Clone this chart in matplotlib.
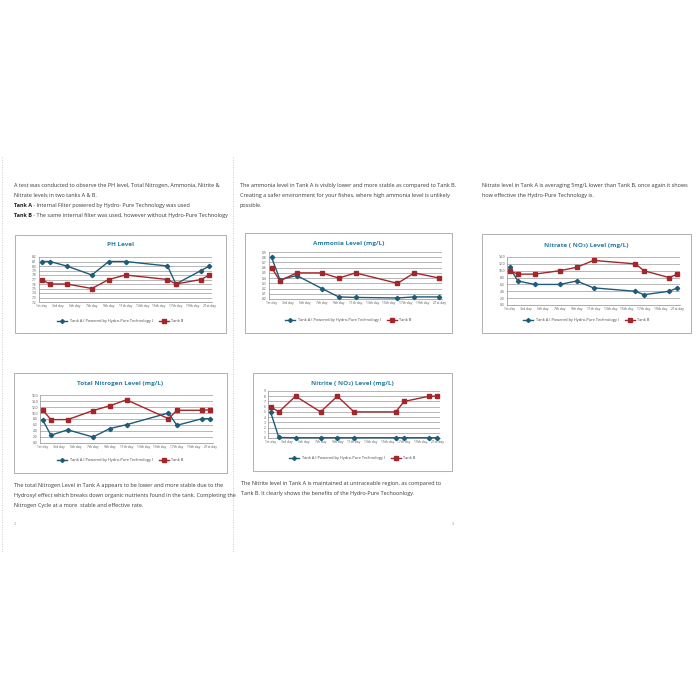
import matplotlib
matplotlib.use("Agg")
import matplotlib.pyplot as plt
from matplotlib.patches import Rectangle
from matplotlib.lines import Line2D
import numpy as np

# ---------------- data ----------------
day_labels = ["1st day", "3rd day", "5th day", "7th day", "9th day", "11th day",
              "13th day", "15th day", "17th day", "19th day", "21st day"]
label_days = [1, 3, 5, 7, 9, 11, 13, 15, 17, 19, 21]
days_main = [1, 2, 4, 7, 9, 11, 16, 17, 20, 21]
days_ammonia = [1, 2, 4, 7, 9, 11, 16, 18, 21]

ph_a = [8.1, 8.1, 8.0, 7.8, 8.1, 8.1, 8.0, 7.6, 7.9, 8.0]
ph_b = [7.7, 7.6, 7.6, 7.5, 7.7, 7.8, 7.7, 7.6, 7.7, 7.8]
ammonia_a = [0.8, 0.37, 0.45, 0.2, 0.04, 0.03, 0.02, 0.04, 0.04]
ammonia_b = [0.6, 0.35, 0.5, 0.5, 0.4, 0.5, 0.3, 0.5, 0.4]
nitrate_a = [11, 7, 6, 6, 7, 5, 4, 3, 4, 5]
nitrate_b = [10, 9, 9, 10, 11, 13, 12, 10, 8, 9]
tn_a = [7.8, 2.6, 4.4, 2.0, 4.8, 6.1, 10.0, 5.9, 8.1, 8.1]
tn_b = [11.1, 7.8, 7.8, 10.8, 12.4, 14.4, 8.1, 10.9, 10.9, 11.1]
nitrite_a = [5.0, 0.1, 0.05, 0.05, 0.05, 0.05, 0.05, 0.05, 0.05, 0.05]
nitrite_b = [6, 5, 8, 5, 8, 5, 5, 7, 8, 8]

label_a = "Tank A ( Powered by Hydro-Pure Technology )"
label_b = "Tank B"

text1 = ["A test was conducted to observe the PH level, Total Nitrogen, Ammonia, Nitrite &",
         "Nitrate levels in two tanks A & B."]
text1_bold = [("Tank A", " - Internal Filter powered by Hydro- Pure Technology was used"),
              ("Tank B", " - The same internal filter was used, however without Hydro-Pure Technology")]
text2 = ["The ammonia level in Tank A is visibly lower and more stable as compared to Tank B.",
         "Creating a safer environment for your fishes, where high ammonia level is unlikely",
         "possible."]
text3 = ["Nitrate level in Tank A is averaging 5mg/L lower than Tank B, once again it shows",
         "how effective the Hydro-Pure Technology is."]
text4 = ["The total Nitrogen Level in Tank A appears to be lower and more stable due to the",
         "Hydroxyl effect which breaks down organic nutrients found in the tank. Completing the",
         "Nitrogen Cycle at a more  stable and effective rate."]
text5 = ["The Nitrite level in Tank A is maintained at untraceable region, as compared to",
         "Tank B. It clearly shows the benefits of the Hydro-Pure Techoonlogy."]

# ---------------- style ----------------
W = H = 700
COL_A = "#1d5b79"
COL_B = "#a3262b"
COL_TITLE = "#2a7fa6"
TXT = "#3a3a3a"
FONT = ["Open Sans", "DejaVu Sans"]
plt.rcParams["font.family"] = FONT

fig = plt.figure(figsize=(7, 7), dpi=100)
fig.patch.set_facecolor("white")
bg = fig.add_axes([0, 0, 1, 1])
bg.set_xlim(0, W)
bg.set_ylim(H, 0)
bg.axis("off")

# fold / page edge dotted lines
for xx in (2, 233):
    bg.plot([xx, xx], [157, 552], ls=(0, (1, 1.5)), color="#cccccc", lw=0.7)

BODY = 3.95
LINE = 10.0


def para(x, y0, lines):
    for i, s in enumerate(lines):
        bg.text(x, y0 + i * LINE, s, fontsize=BODY, color=TXT, va="baseline", ha="left")


para(14, 187, text1)
for i, (b, rest) in enumerate(text1_bold):
    t = bg.text(14, 187 + (2 + i) * LINE, b, fontsize=BODY, color="#222222",
                weight="bold", va="baseline", ha="left")
    bg.annotate(rest, xy=(1, 0), xycoords=t, fontsize=BODY, color=TXT,
                va="bottom", ha="left")
para(240, 187, text2)
para(482, 187, text3)
para(14, 487, text4)
para(241, 485, text5)

bg.text(14, 524, "2", fontsize=3, color="#999999", va="center")
bg.text(452, 524, "3", fontsize=3, color="#999999", va="center")


def chart(box, plot, title, title_y, legend_y, xa, a, xb, b, yticks, yfmt):
    x0, y0, x1, y1 = box
    bg.add_patch(Rectangle((x0 + 1.2, y0 + 1.2), x1 - x0, y1 - y0,
                           facecolor="#e3e3e3", edgecolor="none", zorder=1))
    bg.add_patch(Rectangle((x0, y0), x1 - x0, y1 - y0, facecolor="white",
                           edgecolor="#b3b3b3", lw=0.75, zorder=2))
    cx = (x0 + x1) / 2
    bg.text(cx, title_y, title, fontsize=4.6, weight="bold", color=COL_TITLE,
            ha="center", va="center", zorder=3)
    l, t, r, btm = plot
    ax = fig.add_axes([l / W, 1 - btm / H, (r - l) / W, (btm - t) / H])
    ax.patch.set_alpha(0)
    ax.set_xlim(0.7, 21.3)
    ax.set_ylim(yticks[0], yticks[-1])
    ax.set_yticks(yticks)
    ax.set_yticklabels([yfmt.format(v) for v in yticks])
    ax.set_xticks(label_days)
    ax.set_xticklabels(day_labels)
    ax.tick_params(length=0, labelsize=2.4, labelcolor="#555555", pad=1.5)
    for s in ("top", "right"):
        ax.spines[s].set_visible(False)
    for s in ("left", "bottom"):
        ax.spines[s].set_color("#8c8c8c")
        ax.spines[s].set_linewidth(0.5)
    ax.grid(axis="y", color="#9a9a9a", lw=0.5)
    ax.set_axisbelow(True)
    ax.plot(xa, a, color=COL_A, lw=1.0, marker="D", ms=2.2, mec=COL_A, mfc=COL_A,
            clip_on=False, zorder=3)
    ax.plot(xb, b, color=COL_B, lw=1.0, marker="s", ms=2.9, mec=COL_B, mfc=COL_B,
            clip_on=False, zorder=3)
    handles = [Line2D([], [], color=COL_A, lw=1.0, marker="D", ms=2.0),
               Line2D([], [], color=COL_B, lw=1.0, marker="s", ms=2.6)]
    fig.legend(handles, [label_a, label_b], loc="center",
               bbox_to_anchor=(cx / W, 1 - legend_y / H), ncol=2, frameon=False,
               fontsize=2.8, handlelength=2.6, columnspacing=1.6, handletextpad=0.6,
               labelcolor="#444444")
    return ax


chart((15, 235, 226, 333), (39, 257, 212, 302), "PH Level", 245, 321,
      days_main, ph_a, days_main, ph_b,
      [round(7.2 + 0.1 * i, 1) for i in range(11)], "{:.1f}")
chart((245, 233, 452, 333), (269, 252, 442, 299), "Ammonia Level (mg/L)", 243, 320,
      days_ammonia, ammonia_a, days_ammonia, ammonia_b,
      [round(0.1 * i, 1) for i in range(10)], "{:.1f}")
chart((482, 234, 691, 333), (507, 257, 680, 305), "Nitrate ( NO\u2083) Level (mg/L)", 245, 320,
      days_main, nitrate_a, days_main, nitrate_b,
      list(range(0, 15, 2)), "{:.1f}")
chart((14, 373, 227, 473), (40, 395, 213, 443), "Total Nitrogen Level (mg/L)", 383, 460,
      days_main, tn_a, days_main, tn_b,
      list(range(0, 17, 2)), "{:.1f}")
chart((253, 373, 452, 471), (268, 391, 440, 438), "Nitrite ( NO\u2082) Level (mg/L)", 383, 458,
      days_main, nitrite_a, days_main, nitrite_b,
      list(range(0, 10)), "{:d}")

fig.savefig("out.png", dpi=100, facecolor="white")
